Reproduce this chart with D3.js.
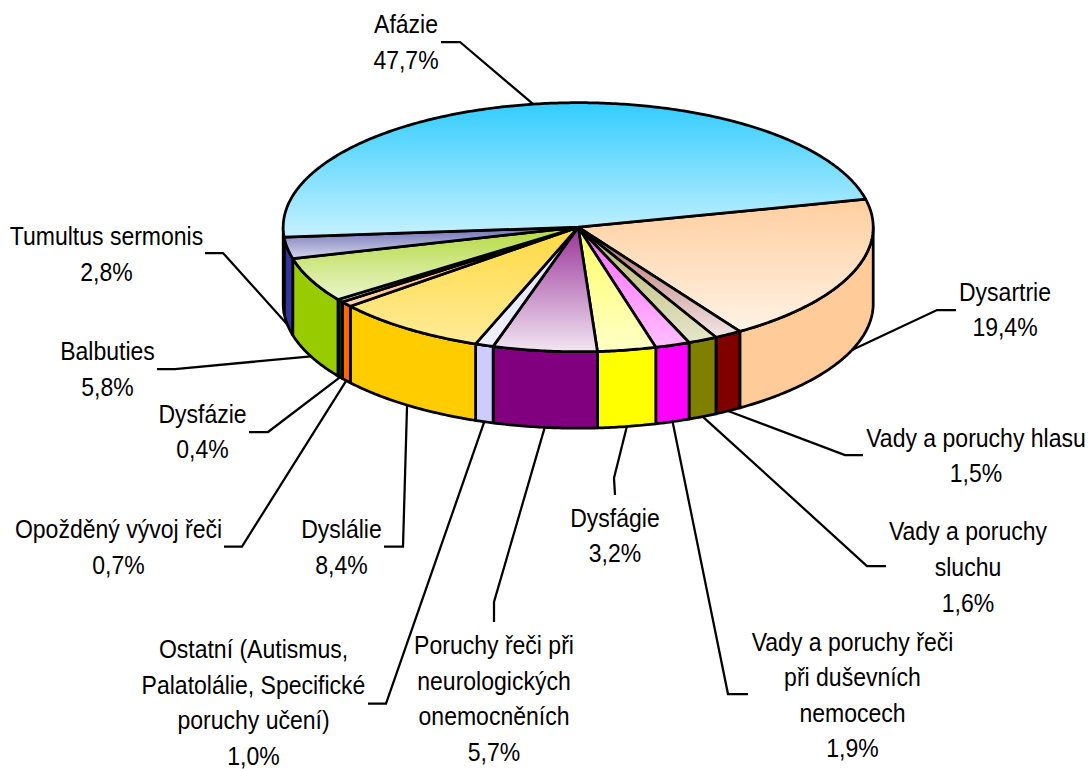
<!DOCTYPE html>
<html>
<head>
<meta charset="utf-8">
<script src="https://cdn.jsdelivr.net/npm/d3@7"></script>
<style>
  html, body { margin: 0; background: #fff; }
  svg { display: block; }
  text { font-family: "Liberation Sans", Arial, sans-serif; font-size: 26px; fill: #000; }
</style>
</head>
<body>
<div id="chart"></div>
<script>
const categories = [
  ['Dysartrie'],
  ['Vady a poruchy hlasu'],
  ['Vady a poruchy', 'sluchu'],
  ['Vady a poruchy řeči', 'při duševních', 'nemocech'],
  ['Dysfágie'],
  ['Poruchy řeči při', 'neurologických', 'onemocněních'],
  ['Ostatní (Autismus,', 'Palatolálie, Specifické', 'poruchy učení)'],
  ['Dyslálie'],
  ['Opožděný vývoj řeči'],
  ['Dysfázie'],
  ['Balbuties'],
  ['Tumultus sermonis'],
  ['Afázie']
];
const values = [19.4, 1.5, 1.6, 1.9, 3.2, 5.7, 1.0, 8.4, 0.7, 0.4, 5.8, 2.8, 47.7];
const colors = ['#FFCC99', '#800000', '#808000', '#FF00FF', '#FFFF00', '#800080', '#CCCCFF',
                '#FFCC00', '#FF6600', '#003300', '#99CC00', '#333399', '#33CCFF'];
// how far each top face is mixed with white at its upper and lower edge
const fadeTop = [0.05, 0.4, 0.4, 0.4, 0.4, 0.2, 0.4, 0.25, 0.4, 0.4, 0.25, 0.3, 0];
const fadeBottom = [0.75, 0.9, 0.8, 0.75, 0.78, 0.9, 0.7, 0.6, 0.7, 0.7, 0.8, 0.8, 0.72];

// label centre x, first line baseline, then the elbow of the leader line
const labelX = [1005, 976, 968, 852.5, 615, 494, 253.5, 341.5, 118.5, 202.5, 107.5, 106.5, 406];
const labelY = [300.7, 446.7, 540.5, 650.7, 526.7, 654, 658, 538.3, 538.3, 422.7, 360, 245, 33.3];
const leaderEnd = [[956, 310], [863, 455], [886, 566], [748, 694], [615, 495], [494, 622], [368, 703.5],
                   [384, 546.5], [224, 546.5], [249, 432], [157, 369], [205, 253], [441, 42]];
const leaderElbow = [[937, 310], [845, 455], [867, 566], [728, 694], [614, 478], [494, 602], [386, 703.5],
                     [403, 546.5], [242, 546.5], [268, 432], [175, 369], [223, 253], [460, 42]];

const width = 1091, height = 769;
const cx = 578.2, cy = 227.2, rx = 295, ry = 124.5, depth = 76.5;
const lineGap = 35.6;
const narrow = 0.885; // the labels are a condensed face
const start = 77 * Math.PI / 180;

const svg = d3.select('#chart').append('svg')
  .attr('width', width)
  .attr('height', height);

const pie = d3.pie().value(d => d).sort(null)
  .startAngle(start)
  .endAngle(start + 2 * Math.PI);
const slices = pie(values);

const px = a => cx + rx * Math.sin(a);
const py = a => cy - ry * Math.cos(a);
const line = d3.line();

function arcPoints(a0, a1) {
  const n = Math.max(2, Math.ceil(Math.abs(a1 - a0) / 0.01));
  return d3.range(n + 1).map(i => {
    const a = a0 + (a1 - a0) * i / n;
    return [px(a), py(a)];
  });
}

// gradients for the top faces
const defs = svg.append('defs');
colors.forEach((c, i) => {
  const toWhite = d3.interpolateRgb(c, '#fff');
  const g = defs.append('linearGradient')
    .attr('id', 'top' + i)
    .attr('x1', 0).attr('y1', 0).attr('x2', 0).attr('y2', 1);
  g.append('stop').attr('offset', '0%').attr('stop-color', toWhite(fadeTop[i]));
  g.append('stop').attr('offset', '100%').attr('stop-color', toWhite(fadeBottom[i]));
});

// side walls, only the front half (90deg..270deg clockwise from the top)
const sides = svg.append('g');
const front0 = Math.PI / 2, front1 = 3 * Math.PI / 2;
slices.forEach((s, i) => {
  const ranges = [[s.startAngle, s.endAngle], [s.startAngle + 2 * Math.PI, s.endAngle + 2 * Math.PI]];
  ranges.forEach(r => {
    const a0 = Math.max(r[0], front0), a1 = Math.min(r[1], front1);
    if (a1 <= a0) return;
    const topEdge = arcPoints(a0, a1);
    const bottomEdge = arcPoints(a1, a0).map(p => [p[0], p[1] + depth]);
    sides.append('path')
      .attr('d', line(topEdge.concat(bottomEdge)) + 'Z')
      .attr('fill', colors[i])
      .attr('stroke', '#000')
      .attr('stroke-width', 2.75)
      .attr('stroke-linejoin', 'round');
  });
});

// top faces
svg.append('g').selectAll('path')
  .data(slices)
  .enter()
  .append('path')
  .attr('d', d => line([[cx, cy]].concat(arcPoints(d.startAngle, d.endAngle))) + 'Z')
  .attr('fill', (d, i) => `url(#top${i})`)
  .attr('stroke', '#000')
  .attr('stroke-width', 2.75)
  .attr('stroke-linejoin', 'round');

// leader lines, starting at the middle of each slice's outer edge
svg.append('g').selectAll('path')
  .data(slices)
  .enter()
  .append('path')
  .attr('d', (d, i) => {
    const mid = (d.startAngle + d.endAngle) / 2;
    const isFront = Math.cos(mid) < 0;
    return line([[px(mid), py(mid) + (isFront ? depth : 0)], leaderElbow[i], leaderEnd[i]]);
  })
  .attr('fill', 'none')
  .attr('stroke', '#000')
  .attr('stroke-width', 2.25);

// labels
const labels = svg.append('g').selectAll('text')
  .data(values)
  .enter()
  .append('text')
  .attr('text-anchor', 'middle')
  .attr('transform', (v, i) => `translate(${labelX[i]},0) scale(${narrow},1)`);

labels.each(function(v, i) {
  const lines = categories[i].concat([d3.format('.1f')(v).replace('.', ',') + '%']);
  d3.select(this).selectAll('tspan')
    .data(lines)
    .enter()
    .append('tspan')
    .attr('x', 0)
    .attr('y', (t, j) => labelY[i] + j * lineGap)
    .text(t => t);
});
</script>
</body>
</html>
